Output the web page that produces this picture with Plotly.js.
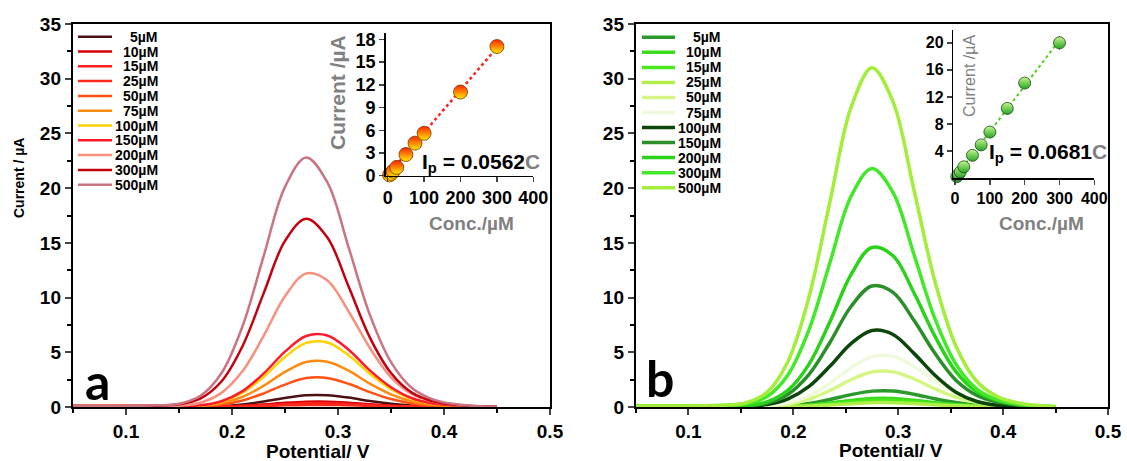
<!DOCTYPE html>
<html>
<head>
<meta charset="utf-8">
<script src="https://cdn.plot.ly/plotly-3.0.1.min.js"></script>
<style>html,body{margin:0;padding:0;background:#fff;}#chart{width:1127px;height:461px;}</style>
</head>
<body>
<div id="chart"></div>
<script>
// ---------------- DATA ----------------
// Panel a (DPV curves, current in µA)
const labelsA = ["5\u00b5M","10\u00b5M","15\u00b5M","25\u00b5M","50\u00b5M","75\u00b5M","100\u00b5M","150\u00b5M","200\u00b5M","300\u00b5M","500\u00b5M"];
const colorsA = ["#4d0f12","#d40000","#ff1f1f","#ff2a1a","#ff5214","#ff8a10","#ffd200","#ff1a2e","#f7917f","#c4000e","#c87482"];
const potA = [0.05,0.10,0.13,0.15,0.17,0.19,0.21,0.23,0.25,0.27,0.29,0.31,0.33,0.35,0.37,0.39,0.41,0.43,0.45];
const a5   = [0.06,0.06,0.06,0.06,0.06,0.09,0.24,0.5,0.83,1.07,1.07,0.86,0.55,0.3,0.13,0.05,0.02,0.01,0.01];
const a10  = [0.05,0.05,0.05,0.05,0.05,0.05,0.11,0.23,0.38,0.48,0.49,0.39,0.25,0.14,0.06,0.03,0.01,0.01,0.01];
const a15  = [0.04,0.04,0.04,0.04,0.04,0.04,0.08,0.16,0.26,0.34,0.34,0.27,0.18,0.09,0.04,0.02,0.01,0.01,0.01];
const a25  = [0.03,0.03,0.03,0.03,0.03,0.03,0.04,0.09,0.15,0.19,0.19,0.16,0.1,0.05,0.03,0.02,0.01,0.01,0.01];
const a50  = [0.08,0.08,0.08,0.08,0.08,0.22,0.59,1.25,2.05,2.64,2.65,2.12,1.36,0.73,0.33,0.13,0.05,0.02,0.02];
const a75  = [0.08,0.08,0.08,0.08,0.1,0.34,0.92,1.95,3.21,4.12,4.14,3.32,2.13,1.15,0.51,0.2,0.08,0.03,0.02];
const a100 = [0.08,0.08,0.08,0.08,0.14,0.48,1.31,2.77,4.57,5.86,5.89,4.72,3.03,1.63,0.73,0.29,0.11,0.04,0.02];
const a150 = [0.1,0.1,0.1,0.1,0.15,0.53,1.45,3.07,5.06,6.49,6.53,5.23,3.35,1.81,0.8,0.32,0.13,0.05,0.02];
const a200 = [0.1,0.1,0.1,0.12,0.39,1.29,3.28,6.53,10.12,12.2,11.56,8.73,5.41,2.71,1.17,0.49,0.18,0.06,0.03];
const a300 = [0.1,0.1,0.12,0.25,0.76,2.33,5.58,10.43,15.18,17.2,15.48,11.01,6.36,3.1,1.29,0.52,0.21,0.07,0.03];
const a500 = [0.1,0.1,0.15,0.3,1.0,3.08,7.4,13.83,20.12,22.8,20.52,14.59,8.44,4.1,1.71,0.68,0.27,0.09,0.03];
const seriesA = [a5,a10,a15,a25,a50,a75,a100,a150,a200,a300,a500];

// Panel b
const labelsB = labelsA;
const colorsB = ["#2a9a2a","#3cdc1c","#48ea1c","#b2ee4a","#d6f683","#eefadb","#0b460b","#2a8f2a","#2ad21a","#44e82a","#a2ee3a"];
const potB = [0.05,0.10,0.135,0.155,0.175,0.195,0.215,0.235,0.255,0.275,0.295,0.315,0.335,0.355,0.375,0.395,0.415,0.435,0.45];
const b5   = [0.05,0.05,0.05,0.05,0.05,0.12,0.32,0.69,1.13,1.45,1.46,1.17,0.75,0.41,0.18,0.07,0.03,0.01,0.01];
const b10  = [0.04,0.04,0.04,0.04,0.04,0.06,0.17,0.37,0.6,0.78,0.78,0.62,0.4,0.22,0.1,0.04,0.02,0.01,0.01];
const b15  = [0.04,0.04,0.04,0.04,0.04,0.05,0.13,0.27,0.45,0.58,0.58,0.47,0.3,0.16,0.07,0.03,0.01,0.01,0.01];
const b25  = [0.03,0.03,0.03,0.03,0.03,0.03,0.09,0.18,0.3,0.39,0.39,0.31,0.2,0.11,0.05,0.02,0.01,0.01,0.01];
const b50  = [0.06,0.06,0.06,0.06,0.08,0.26,0.71,1.51,2.49,3.2,3.21,2.57,1.65,0.89,0.4,0.16,0.06,0.02,0.01];
const b75  = [0.06,0.06,0.06,0.06,0.11,0.38,1.03,2.17,3.59,4.6,4.63,3.71,2.38,1.28,0.57,0.23,0.09,0.03,0.01];
const b100 = [0.08,0.08,0.08,0.08,0.22,0.74,1.88,3.74,5.8,6.99,6.63,4.9,2.9,1.35,0.5,0.15,0.05,0.02,0.01];
const b150 = [0.1,0.1,0.1,0.1,0.36,1.17,2.98,5.92,9.18,11.06,10.48,7.92,4.91,2.45,1.06,0.45,0.17,0.06,0.02];
const b200 = [0.1,0.1,0.1,0.11,0.47,1.54,3.92,7.81,12.1,14.58,13.82,10.44,6.47,3.23,1.4,0.59,0.22,0.07,0.03];
const b300 = [0.1,0.1,0.15,0.29,0.96,2.95,7.08,13.22,19.24,21.8,19.62,13.95,8.07,3.92,1.64,0.65,0.26,0.09,0.03];
const b500 = [0.1,0.1,0.17,0.39,1.36,4.19,10.07,18.8,27.36,31.0,27.9,19.84,11.47,5.58,2.33,0.93,0.37,0.12,0.04];
const seriesB = [b5,b10,b15,b25,b50,b75,b100,b150,b200,b300,b500];

// Insets (calibration)
const concA = [5,10,15,25,50,75,100,200,300];
const ipA   = [0.1,0.3,0.6,1.1,2.8,4.3,5.6,11.05,17.05];
const fitAx = [0,300];
const fitAy = [0.1,16.9];
const concB = [5,10,15,25,50,75,100,150,200,300];
const ipB   = [0.2,0.55,0.9,1.65,3.35,4.9,6.8,10.3,14.05,20.0];
const errB  = [0,0,0,0,0,0,0,0,0,1.0];
const fitBx = [0,300];
const fitBy = [0.1,20.4];

const mainXTicks = [0.1,0.2,0.3,0.4,0.5];
const insetXTicks = [0,100,200,300,400];
const insetAYTicks = [0,3,6,9,12,15,18];
const insetBYTicks = [4,8,12,16,20];

// ---------------- LAYOUT HELPERS ----------------
const W = 1127, H = 461;
const PX = v => v / W;
const PY = v => 1 - v / H;
const FONT = "Liberation Sans, Arial, sans-serif";

const traces = [];
seriesA.forEach((s, i) => traces.push({
  x: potA, y: s, xaxis: 'x', yaxis: 'y', type: 'scatter', mode: 'lines',
  line: {color: colorsA[i], width: 2.5, shape: 'spline'}, name: labelsA[i], hoverinfo: 'skip'
}));
seriesB.forEach((s, i) => traces.push({
  x: potB, y: s, xaxis: 'x2', yaxis: 'y2', type: 'scatter', mode: 'lines',
  line: {color: colorsB[i], width: 3.5, shape: 'spline'}, name: labelsB[i], hoverinfo: 'skip'
}));
traces.push({x: fitAx, y: fitAy, xaxis: 'x3', yaxis: 'y3', type: 'scatter', mode: 'lines',
  line: {color: '#ff2020', width: 2.5, dash: 'dot'}, cliponaxis: false});
traces.push({x: concA, y: ipA, xaxis: 'x3', yaxis: 'y3', type: 'scatter', mode: 'markers', cliponaxis: false,
  marker: {size: 14, color: '#ff2400', gradient: {type: 'vertical', color: '#ffea00'}, line: {color: '#7a3a00', width: 0.8}}});
traces.push({x: fitBx, y: fitBy, xaxis: 'x4', yaxis: 'y4', type: 'scatter', mode: 'lines',
  line: {color: '#55cc22', width: 2, dash: 'dot'}, cliponaxis: false});
traces.push({x: concB, y: ipB, xaxis: 'x4', yaxis: 'y4', type: 'scatter', mode: 'markers', cliponaxis: false,
  error_y: {type: 'data', array: errB, visible: true, color: '#333', thickness: 1, width: 0},
  marker: {size: 12, color: '#c6f48e', gradient: {type: 'vertical', color: '#23a623'}, line: {color: '#1a4a1a', width: 0.8}}});

function mainAxisX(domain, anchor) {
  return {domain, anchor, range: [0.05, 0.5], tickvals: mainXTicks, ticks: 'outside', ticklen: 6, tickwidth: 2,
    showline: true, linewidth: 2.2, linecolor: '#000', mirror: true, showgrid: false, zeroline: false,
    minor: {tickvals: [0.05,0.15,0.25,0.35,0.45], ticks: 'outside', ticklen: 4, tickwidth: 2, tickcolor: '#000', showgrid: false},
    tickfont: {family: FONT, size: 19, color: '#000', weight: 'bold'}, fixedrange: true};
}
function mainAxisY(domain, anchor) {
  return {domain, anchor, range: [0, 35], tick0: 0, dtick: 5, ticks: 'outside', ticklen: 6, tickwidth: 2,
    showline: true, linewidth: 2.2, linecolor: '#000', mirror: true, showgrid: false, zeroline: false,
    minor: {dtick: 2.5, ticks: 'outside', ticklen: 4, tickwidth: 2, tickcolor: '#000', showgrid: false},
    tickfont: {family: FONT, size: 19, color: '#000', weight: 'bold'}, fixedrange: true};
}
function insetAxis(domain, anchor, range, tickvals, size) {
  return {domain, anchor, range, tickvals, ticks: 'outside', ticklen: 5, tickwidth: 1.5,
    showline: true, linewidth: 1.5, linecolor: '#000', mirror: false, showgrid: false, zeroline: false,
    tickfont: {family: FONT, size, color: '#000', weight: 'bold'}, fixedrange: true};
}

const ann = [];
const shapes = [];
function addText(text, x, y, opts) {
  ann.push(Object.assign({text, x: PX(x), y: PY(y), xref: 'paper', yref: 'paper', showarrow: false,
    xanchor: 'center', yanchor: 'middle'}, opts));
}
// Legends (custom, right-aligned labels)
function legend(labels, colors, lx0, lx1, tx, y0, step, lw) {
  labels.forEach((lab, i) => {
    const y = y0 + step * i;
    shapes.push({type: 'line', xref: 'paper', yref: 'paper', x0: PX(lx0), x1: PX(lx1), y0: PY(y), y1: PY(y),
      line: {color: colors[i], width: lw}});
    addText(lab, tx, y, {xanchor: 'right', font: {family: FONT, size: 14, color: '#000', weight: 'bold'}});
  });
}
legend(labelsA, colorsA, 78, 112, 160, 36.7, 14.8, 2.5);
legend(labelsB, colorsB, 642, 675, 723, 37.3, 15.04, 3.5);

const boldBlack = s => ({family: FONT, size: s, color: '#000', weight: 'bold'});
const boldGrey = s => ({family: FONT, size: s, color: '#808080', weight: 'bold'});
addText('Current / \u00b5A', 19, 178, {textangle: -90, font: boldBlack(14)});
addText('Potential/ V', 317.5, 451, {font: boldBlack(19)});
addText('Potential/ V', 891, 450, {font: boldBlack(19)});
addText('a', 83, 381, {xanchor: 'left', font: {family: 'Lato, sans-serif', size: 50, color: '#000', weight: 'bold'}});
addText('b', 644, 378, {xanchor: 'left', font: {family: 'Lato, sans-serif', size: 50, color: '#000', weight: 'bold'}});
addText('Current /\u00b5A', 338, 93, {textangle: -90, font: boldGrey(21)});
addText('Conc./\u00b5M', 471, 223, {font: boldGrey(19)});
addText('Conc./\u00b5M', 1041, 223, {font: boldGrey(19)});
addText('Current /\u00b5A', 970, 76, {textangle: -90, font: {family: FONT, size: 16, color: '#808080'}});
addText('I<sub>p</sub> = 0.0562<span style="color:#808080">C</span>', 420, 163, {xanchor: 'left', font: boldBlack(21)});
addText('I<sub>p</sub> = 0.0681<span style="color:#808080">C</span>', 987, 153, {xanchor: 'left', font: boldBlack(21)});

const layout = {
  width: W, height: H, margin: {l: 0, r: 0, t: 0, b: 0, pad: 0},
  paper_bgcolor: '#fff', plot_bgcolor: 'rgba(0,0,0,0)', showlegend: false,
  xaxis: mainAxisX([PX(73), PX(550)], 'y'),
  yaxis: mainAxisY([PY(407), PY(24)], 'x'),
  xaxis2: mainAxisX([PX(636), PX(1108)], 'y2'),
  yaxis2: mainAxisY([PY(407), PY(24)], 'x2'),
  xaxis3: insetAxis([PX(385.7), PX(533.3)], 'y3', [-5.5, 400], insetXTicks, 18),
  yaxis3: insetAxis([PY(175.7), PY(33.3)], 'x3', [0, 18.8], insetAYTicks, 18),
  xaxis4: insetAxis([PX(953.3), PX(1094.3)], 'y4', [-5, 400], insetXTicks, 16),
  yaxis4: insetAxis([PY(178), PY(30)], 'x4', [0, 21.9], insetBYTicks, 16),
  annotations: ann, shapes: shapes
};
Plotly.newPlot('chart', traces, layout, {staticPlot: true, displayModeBar: false});
</script>
</body>
</html>
